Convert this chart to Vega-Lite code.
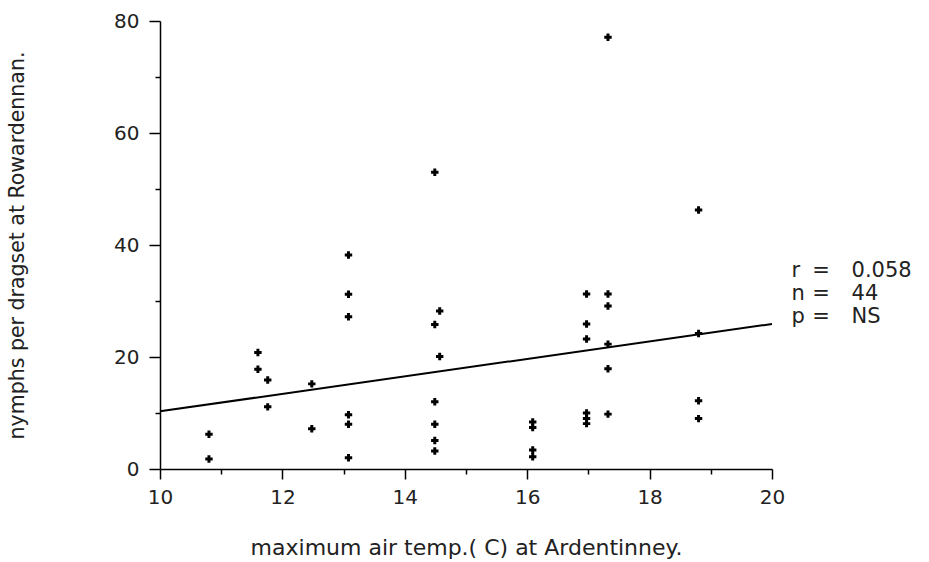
{
  "$schema": "https://vega.github.io/schema/vega-lite/v6.json",
  "width": 612,
  "height": 448,
  "autosize": {"type": "none"},
  "padding": {"left": 160, "top": 21, "right": 157, "bottom": 93},
  "background": "white",
  "config": {"view": {"stroke": null}, "font": "DejaVu Sans"},
  "resolve": {"axis": {"x": "independent", "y": "independent"}},
  "datasets": {
    "samples": [
      {"temp": 10.8, "nymphs": 6.2},
      {"temp": 10.8, "nymphs": 1.8},
      {"temp": 11.6, "nymphs": 20.8},
      {"temp": 11.6, "nymphs": 17.8},
      {"temp": 11.76, "nymphs": 15.9},
      {"temp": 11.76, "nymphs": 11.1},
      {"temp": 12.48, "nymphs": 15.2},
      {"temp": 12.48, "nymphs": 7.2},
      {"temp": 13.08, "nymphs": 38.2},
      {"temp": 13.08, "nymphs": 31.2},
      {"temp": 13.08, "nymphs": 27.2},
      {"temp": 13.08, "nymphs": 9.7},
      {"temp": 13.08, "nymphs": 8.0},
      {"temp": 13.08, "nymphs": 2.0},
      {"temp": 14.49, "nymphs": 53.0},
      {"temp": 14.57, "nymphs": 28.2},
      {"temp": 14.49, "nymphs": 25.8},
      {"temp": 14.57, "nymphs": 20.1},
      {"temp": 14.49, "nymphs": 12.0},
      {"temp": 14.49, "nymphs": 8.0},
      {"temp": 14.49, "nymphs": 5.1},
      {"temp": 14.49, "nymphs": 3.2},
      {"temp": 16.09, "nymphs": 8.4},
      {"temp": 16.09, "nymphs": 7.4},
      {"temp": 16.09, "nymphs": 3.4},
      {"temp": 16.09, "nymphs": 2.2},
      {"temp": 16.97, "nymphs": 31.25},
      {"temp": 16.97, "nymphs": 25.9},
      {"temp": 16.97, "nymphs": 23.2},
      {"temp": 16.97, "nymphs": 10.0},
      {"temp": 16.97, "nymphs": 9.0},
      {"temp": 16.97, "nymphs": 8.1},
      {"temp": 17.32, "nymphs": 77.1},
      {"temp": 17.32, "nymphs": 31.25},
      {"temp": 17.32, "nymphs": 29.1},
      {"temp": 17.32, "nymphs": 22.3},
      {"temp": 17.32, "nymphs": 17.9},
      {"temp": 17.32, "nymphs": 9.8},
      {"temp": 18.8, "nymphs": 46.25},
      {"temp": 18.8, "nymphs": 24.2},
      {"temp": 18.8, "nymphs": 12.2},
      {"temp": 18.8, "nymphs": 9.0}
    ],
    "fit": [
      {"temp": 10, "nymphs": 10.3},
      {"temp": 20, "nymphs": 25.9}
    ],
    "stats": [
      {"sym": "r", "val": "0.058"},
      {"sym": "n", "val": "44"},
      {"sym": "p", "val": "NS"}
    ]
  },
  "layer": [
    {
      "data": {"name": "samples"},
      "mark": {"type": "point", "shape": "cross", "filled": true, "size": 55, "color": "black", "opacity": 1},
      "encoding": {
        "x": {
          "field": "temp",
          "type": "quantitative",
          "scale": {"domain": [10, 20], "nice": false, "zero": false},
          "axis": {
            "orient": "bottom",
            "values": [10, 12, 14, 16, 18, 20],
            "format": "d",
            "tickSize": 10,
            "grid": false,
            "domainColor": "black",
            "domainWidth": 1.5,
            "tickColor": "black",
            "tickWidth": 1.5,
            "labelFont": "DejaVu Sans",
            "labelFontSize": 20,
            "labelColor": "#222",
            "labelPadding": 8,
            "labelFlush": false,
            "labelOverlap": false,
            "title": "maximum air temp.( C) at Ardentinney.",
            "titleFont": "DejaVu Sans",
            "titleFontSize": 22,
            "titleFontWeight": "normal",
            "titleColor": "#222",
            "titlePadding": 30
          }
        },
        "y": {
          "field": "nymphs",
          "type": "quantitative",
          "scale": {"domain": [0, 80], "nice": false, "zero": true},
          "axis": {
            "orient": "left",
            "values": [0, 20, 40, 60, 80],
            "tickSize": 11,
            "grid": false,
            "domainColor": "black",
            "domainWidth": 1.5,
            "tickColor": "black",
            "tickWidth": 1.5,
            "labelFont": "DejaVu Sans",
            "labelFontSize": 20,
            "labelColor": "#222",
            "labelPadding": 10,
            "labelFlush": false,
            "labelOverlap": false,
            "title": "nymphs per dragset at Rowardennan.",
            "titleFont": "DejaVu Sans",
            "titleFontSize": 20.5,
            "titleFontWeight": "normal",
            "titleColor": "#222",
            "titlePadding": 86
          }
        }
      }
    },
    {
      "data": {"name": "fit"},
      "mark": {"type": "line", "color": "black", "strokeWidth": 2},
      "encoding": {
        "x": {
          "field": "temp",
          "type": "quantitative",
          "axis": {"orient": "bottom", "values": [11, 13, 15, 17, 19], "tickSize": 5, "tickColor": "black", "tickWidth": 1.5, "labels": false, "domain": false, "grid": false, "title": null}
        },
        "y": {
          "field": "nymphs",
          "type": "quantitative",
          "axis": {"orient": "left", "values": [10, 30, 50, 70], "tickSize": 5, "tickColor": "black", "tickWidth": 1.5, "labels": false, "domain": false, "grid": false, "title": null}
        }
      }
    },
    {
      "data": {"name": "stats"},
      "layer": [
        {
          "transform": [{"filter": "datum.sym === 'r'"}],
          "encoding": {"y": {"datum": 35.3, "type": "quantitative", "axis": null}},
          "layer": [
            {"mark": {"type": "text", "align": "left", "baseline": "middle", "font": "DejaVu Sans", "fontSize": 21, "color": "#222"}, "encoding": {"x": {"datum": 20.32, "type": "quantitative", "axis": null}, "text": {"field": "sym"}}},
            {"mark": {"type": "text", "align": "center", "baseline": "middle", "font": "DejaVu Sans", "fontSize": 21, "color": "#222"}, "encoding": {"x": {"datum": 20.8, "type": "quantitative", "axis": null}, "text": {"value": "="}}},
            {"mark": {"type": "text", "align": "left", "baseline": "middle", "font": "DejaVu Sans", "fontSize": 21, "color": "#222"}, "encoding": {"x": {"datum": 21.3, "type": "quantitative", "axis": null}, "text": {"field": "val"}}}
          ]
        },
        {
          "transform": [{"filter": "datum.sym === 'n'"}],
          "encoding": {"y": {"datum": 31.2, "type": "quantitative", "axis": null}},
          "layer": [
            {"mark": {"type": "text", "align": "left", "baseline": "middle", "font": "DejaVu Sans", "fontSize": 21, "color": "#222"}, "encoding": {"x": {"datum": 20.32, "type": "quantitative", "axis": null}, "text": {"field": "sym"}}},
            {"mark": {"type": "text", "align": "center", "baseline": "middle", "font": "DejaVu Sans", "fontSize": 21, "color": "#222"}, "encoding": {"x": {"datum": 20.8, "type": "quantitative", "axis": null}, "text": {"value": "="}}},
            {"mark": {"type": "text", "align": "left", "baseline": "middle", "font": "DejaVu Sans", "fontSize": 21, "color": "#222"}, "encoding": {"x": {"datum": 21.3, "type": "quantitative", "axis": null}, "text": {"field": "val"}}}
          ]
        },
        {
          "transform": [{"filter": "datum.sym === 'p'"}],
          "encoding": {"y": {"datum": 27.1, "type": "quantitative", "axis": null}},
          "layer": [
            {"mark": {"type": "text", "align": "left", "baseline": "middle", "font": "DejaVu Sans", "fontSize": 21, "color": "#222"}, "encoding": {"x": {"datum": 20.32, "type": "quantitative", "axis": null}, "text": {"field": "sym"}}},
            {"mark": {"type": "text", "align": "center", "baseline": "middle", "font": "DejaVu Sans", "fontSize": 21, "color": "#222"}, "encoding": {"x": {"datum": 20.8, "type": "quantitative", "axis": null}, "text": {"value": "="}}},
            {"mark": {"type": "text", "align": "left", "baseline": "middle", "font": "DejaVu Sans", "fontSize": 21, "color": "#222"}, "encoding": {"x": {"datum": 21.3, "type": "quantitative", "axis": null}, "text": {"field": "val"}}}
          ]
        }
      ]
    }
  ]
}
